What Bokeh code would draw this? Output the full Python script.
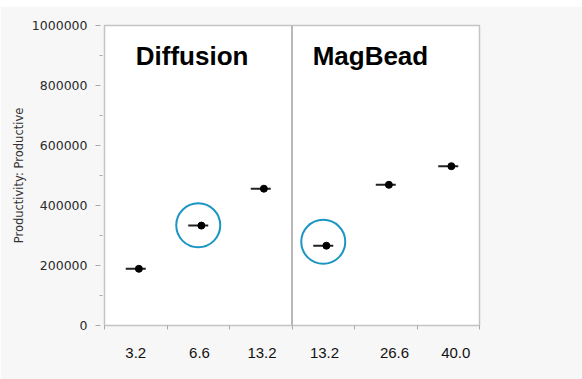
from bokeh.plotting import figure
from bokeh.models import (Range1d, FixedTicker, NumeralTickFormatter, LinearAxis,
                          Span, Label, ColumnDataSource, Div)
from bokeh.layouts import column
from bokeh.embed import file_html
from bokeh.resources import INLINE

# ---- data ----
panels = ["Diffusion", "MagBead"]
categories = ["3.2", "6.6", "13.2", "13.2", "26.6", "40.0"]
panel_of = [0, 0, 0, 1, 1, 1]
productivity = [189000, 333000, 456000, 266000, 469000, 531000]
highlight_index = [1, 3]
highlight_center = [334000, 279000]
y_ticks = [0, 200000, 400000, 600000, 800000, 1000000]
y_minor = [100000, 300000, 500000, 700000, 900000]

n = len(categories)
idx = list(range(n))

p = figure(width=582, height=373, output_backend="svg", toolbar_location=None,
           x_range=Range1d(0, n), y_range=Range1d(0, 1000000),
           min_border_left=104, min_border_right=103, min_border_top=19,
           min_border_bottom=54, x_axis_type=None, margin=0)
p.border_fill_color = "#f7f7f7"
p.background_fill_color = "white"
p.outline_line_color = "#c4c4c4"
p.outline_line_width = 1.5
p.xgrid.visible = False
p.ygrid.visible = False

# y axis
ya = p.yaxis[0]
ya.ticker = FixedTicker(ticks=y_ticks, minor_ticks=y_minor)
ya.formatter = NumeralTickFormatter(format="0")
ya.axis_line_color = None
ya.major_tick_line_color = "#a8a8a8"
ya.minor_tick_line_color = "#a8a8a8"
ya.major_tick_in = -4
ya.major_tick_out = 9
ya.minor_tick_in = -2
ya.minor_tick_out = 5
ya.major_label_standoff = 8
ya.major_label_text_font = "DejaVu Sans"
ya.major_label_text_font_size = "12.5px"
ya.major_label_text_color = "#2a2a2a"
ya.axis_label = "Productivity: Productive"
ya.axis_label_text_font = "DejaVu Sans"
ya.axis_label_text_font_size = "11.5px"
ya.axis_label_text_font_style = "normal"
ya.axis_label_text_color = "#333333"
ya.axis_label_standoff = 3

# x axis: boundary ticks as minor, labels at category centres
label_pos = [i + 0.5 + off for i, off in zip(idx, [0.0, 0.02, 0.02, 0.02, 0.14, 0.12])]
xa = LinearAxis(ticker=FixedTicker(ticks=label_pos, minor_ticks=list(range(n + 1))))
xa.major_label_overrides = {lp: c for lp, c in zip(label_pos, categories)}
xa.axis_line_color = None
xa.major_tick_line_color = None
xa.minor_tick_line_color = "#a8a8a8"
xa.minor_tick_in = 0
xa.minor_tick_out = 4
xa.major_label_standoff = 16
xa.major_label_text_font = "Liberation Sans"
xa.major_label_text_font_size = "15px"
xa.major_label_text_color = "#111111"
p.add_layout(xa, "below")

# panel divider
p.add_layout(Span(location=3, dimension="height", line_color="#b8b8b8", line_width=2))

# panel titles
title_x = [0.5, 3.33]
for name, tx in zip(panels, title_x):
    p.add_layout(Label(x=tx, y=900000, text=name, text_font="Liberation Sans",
                       text_font_size="26px", text_font_style="bold",
                       text_color="black", text_baseline="alphabetic"))

# mean lines and points
src = ColumnDataSource(dict(
    x0=[i + 0.34 for i in idx], x1=[i + 0.66 for i in idx],
    xd=[i + 0.55 for i in idx], y=productivity))
p.segment(x0="x0", x1="x1", y0="y", y1="y", source=src, line_color="#222222", line_width=2)
p.scatter(x="xd", y="y", source=src, size=7, color="black")

# highlight circles
p.scatter(x=[i + 0.5 for i in highlight_index], y=highlight_center, size=44,
          marker="circle", fill_color=None, line_color="#1b96c2", line_width=2)

top = Div(text='<div style="margin-left:3px;width:579px;height:4px;'
               'border-left:1px solid #bbbbbb;border-bottom:2px solid #c4c4c4;'
               'background:white"></div>',
          width=582, height=6, margin=0, styles={"background-color": "white"})

open("out.html", "w").write(file_html(column(top, p, spacing=0, margin=0), INLINE))
